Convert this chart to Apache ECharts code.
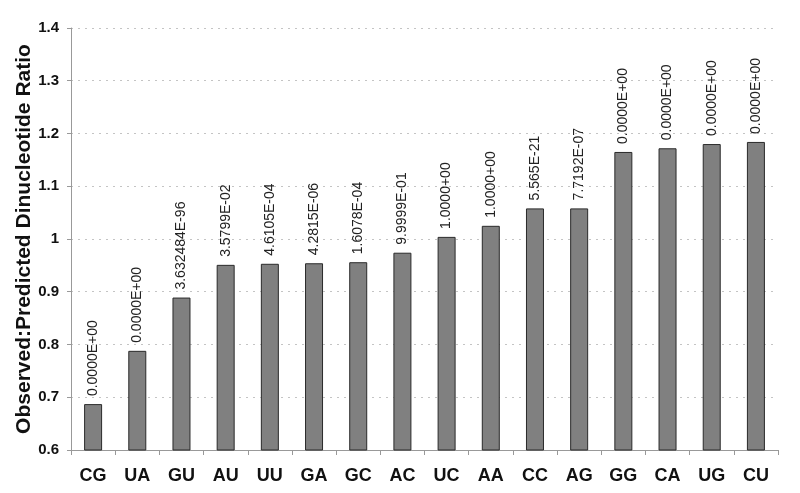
<!DOCTYPE html>
<html>
<head>
<meta charset="utf-8">
<script src="https://cdn.jsdelivr.net/npm/echarts@6/dist/echarts.min.js"></script>
<style>
  html, body { margin: 0; padding: 0; background: #fff; }
  #main { width: 800px; height: 493px; }
</style>
</head>
<body>
<div id="main"></div>
<script>
const dinucleotides = ['CG', 'UA', 'GU', 'AU', 'UU', 'GA', 'GC', 'AC', 'UC', 'AA', 'CC', 'AG', 'GG', 'CA', 'UG', 'CU'];
const ratios = [0.687, 0.788, 0.889, 0.951, 0.953, 0.954, 0.956, 0.974, 1.004, 1.025, 1.058, 1.058, 1.165, 1.172, 1.180, 1.184];
const pValues = ['0.0000E+00', '0.0000E+00', '3.632484E-96', '3.5799E-02', '4.6105E-04', '4.2815E-06',
  '1.6078E-04', '9.9999E-01', '1.0000+00', '1.0000+00', '5.565E-21', '7.7192E-07',
  '0.0000E+00', '0.0000E+00', '0.0000E+00', '0.0000E+00'];

const chart = echarts.init(document.getElementById('main'));

const font = 'Arial, "Liberation Sans", sans-serif';

const option = {
  animation: false,
  backgroundColor: '#fff',
  grid: { left: 71, right: 22, top: 28, bottom: 43, containLabel: false, outerBoundsMode: 'none' },
  xAxis: {
    type: 'category',
    data: dinucleotides,
    axisLine: { lineStyle: { color: '#999' } },
    axisTick: { show: true, alignWithLabel: false, length: 5, lineStyle: { color: '#999' } },
    axisLabel: { fontFamily: font, fontWeight: 'bold', fontSize: 18, color: '#111', margin: 17 }
  },
  yAxis: {
    type: 'value',
    min: 0.6,
    max: 1.4,
    interval: 0.1,
    name: 'Observed:Predicted Dinucleotide Ratio',
    nameLocation: 'middle',
    nameGap: 36,
    nameMoveOverlap: false,
    nameTextStyle: { fontFamily: font, fontWeight: 'bold', fontSize: 21, color: '#111' },
    axisLine: { show: true, lineStyle: { color: '#999' } },
    axisTick: { show: true, length: 4, lineStyle: { color: '#999' } },
    axisLabel: {
      fontFamily: font, fontWeight: 'bold', fontSize: 15, color: '#111', margin: 12,
      formatter: v => String(Math.round(v * 10) / 10)
    },
    splitLine: { lineStyle: { color: '#c4c4c4', type: [2, 5] } }
  },
  series: [{
    type: 'bar',
    data: ratios,
    barWidth: 18,
    itemStyle: { color: '#808080', borderColor: '#2a2a2a', borderWidth: 1 },
    label: {
      show: true,
      position: 'top',
      rotate: 90,
      align: 'left',
      verticalAlign: 'middle',
      distance: 8,
      fontFamily: font,
      fontSize: 14,
      color: '#222',
      formatter: p => pValues[p.dataIndex]
    }
  }]
};

chart.setOption(option);
</script>
</body>
</html>
